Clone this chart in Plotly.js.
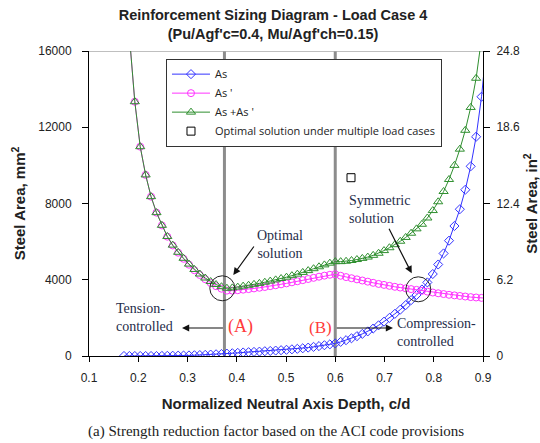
<!DOCTYPE html>
<html>
<head>
<meta charset="utf-8">
<script src="https://cdn.plot.ly/plotly-3.0.1.min.js"></script>
<style>
  html, body { margin: 0; padding: 0; background: #fff; }
  #chart { width: 540px; height: 443px; }
</style>
</head>
<body>
<div id="chart"></div>
<script>
// ---- data ----
var cd = [0.171, 0.182, 0.193, 0.204, 0.215, 0.226, 0.237, 0.248, 0.259, 0.270,
          0.281, 0.292, 0.303, 0.314, 0.325, 0.336, 0.347, 0.358, 0.369, 0.380,
          0.391, 0.402, 0.413, 0.424, 0.435, 0.446, 0.457, 0.468, 0.479, 0.490,
          0.501, 0.512, 0.523, 0.534, 0.545, 0.556, 0.567, 0.578, 0.589, 0.600,
          0.611, 0.622, 0.633, 0.644, 0.655, 0.666, 0.677, 0.688, 0.699, 0.710,
          0.721, 0.732, 0.743, 0.754, 0.765, 0.776, 0.787, 0.798, 0.809, 0.820,
          0.831, 0.842, 0.853, 0.864, 0.875, 0.886, 0.897, 0.908];

var As = [0, 0, 0, 0, 0, 0, 0, 5, 10, 15,
          20, 25, 30, 40, 50, 60, 75, 90, 105, 125,
          145, 165, 185, 200, 215, 230, 250, 265, 285, 305,
          325, 350, 375, 405, 440, 480, 520, 565, 610, 660,
          740, 830, 930, 1040, 1160, 1290, 1440, 1610, 1800, 2000,
          2210, 2430, 2670, 2930, 3200, 3490, 3860, 4300, 4800, 5380,
          6050, 6820, 7700, 8720, 9950, 11500, 13600, 16500];

var AsPrime = [21000, 16800, 13340, 10980, 9500, 8360, 7520, 6850, 6260, 5800,
               5420, 5100, 4790, 4500, 4250, 4030, 3830, 3660, 3530, 3430,
               3430, 3450, 3480, 3510, 3545, 3580, 3620, 3665, 3710, 3760,
               3810, 3865, 3920, 3980, 4040, 4100, 4160, 4215, 4260, 4290,
               4210, 4140, 4080, 4020, 3960, 3900, 3840, 3780, 3730, 3680,
               3630, 3590, 3550, 3510, 3470, 3420, 3380, 3330, 3290, 3250,
               3210, 3180, 3150, 3120, 3090, 3070, 3050, 3030];

var AsTotal = [21000, 16800, 13340, 10980, 9500, 8360, 7520, 6855, 6270, 5815,
               5440, 5125, 4820, 4540, 4300, 4090, 3905, 3750, 3635, 3555,
               3575, 3615, 3665, 3710, 3760, 3810, 3870, 3930, 3995, 4065,
               4135, 4215, 4295, 4385, 4480, 4580, 4680, 4780, 4870, 4950,
               4950, 4970, 5010, 5060, 5120, 5190, 5280, 5390, 5530, 5680,
               5840, 6020, 6220, 6440, 6670, 6910, 7240, 7630, 8090, 8630,
               9260, 10000, 10850, 11840, 13040, 14570, 16650, 19530];

var optimalX = [0.632];
var optimalY = [9354];

var seriesNames = ["As", "As '", "As +As '", "Optimal solution under multiple load cases"];

var xTicks = [0.1, 0.2, 0.3, 0.4, 0.5, 0.6, 0.7, 0.8, 0.9];
var yLeftTicks = [0, 4000, 8000, 12000, 16000];
var yLeftTickText = ["0", "4000", "8000", "12000", "16000"];
var yRightTicks = [0, 6.2, 12.4, 18.6, 24.8];
var yRightTickText = ["0", "6.2", "12.4", "18.6", "24.8"];

var limitLines = [0.375, 0.6];   // tension-controlled limit (A), compression-controlled limit (B)

// ---- traces ----
var traces = [
  {
    x: cd, y: As, name: seriesNames[0], type: "scatter", mode: "lines+markers",
    line: { color: "#3333ff", width: 1 },
    marker: { symbol: "diamond-open", size: 7, color: "#3333ff", line: { width: 1, color: "#3333ff" } }
  },
  {
    x: cd, y: AsPrime, name: seriesNames[1], type: "scatter", mode: "lines+markers",
    line: { color: "#ff33ff", width: 1 },
    marker: { symbol: "circle-open", size: 7, color: "#ff33ff", line: { width: 1, color: "#ff33ff" } }
  },
  {
    x: cd, y: AsTotal, name: seriesNames[2], type: "scatter", mode: "lines+markers",
    line: { color: "#2f8f2f", width: 1 },
    marker: { symbol: "triangle-up-open", size: 8, color: "#2f8f2f", line: { width: 1, color: "#2f8f2f" } }
  },
  {
    x: optimalX, y: optimalY, name: seriesNames[3], type: "scatter", mode: "markers",
    marker: { symbol: "square-open", size: 8, color: "#000", line: { width: 1, color: "#000" } }
  },
  {
    x: [null], y: [null], yaxis: "y2", type: "scatter", mode: "markers",
    showlegend: false, hoverinfo: "skip"
  }
];

var serif = "Liberation Serif, Times New Roman, serif";
var sans = "Liberation Sans, Arial, sans-serif";
var navy = "#1f2d4a";
var red = "#ff3b3b";

var shapes = limitLines.map(function (v) {
  return { type: "line", xref: "x", yref: "y", x0: v, x1: v, y0: 0, y1: 16000,
           line: { color: "#8c8c8c", width: 3 }, layer: "below" };
});
shapes.push({ type: "line", xref: "x", yref: "y", x0: 0.1, x1: 0.9, y0: 16000, y1: 16000,
              line: { color: "#aaaaaa", width: 1.5 }, layer: "below" });
// highlight circles
shapes.push({ type: "circle", xref: "x", yref: "y", xsizemode: "pixel", ysizemode: "pixel",
              xanchor: 0.3707, yanchor: 3552, x0: -12.5, x1: 12.5, y0: -12.5, y1: 12.5,
              line: { color: "#222", width: 1 } });
shapes.push({ type: "circle", xref: "x", yref: "y", xsizemode: "pixel", ysizemode: "pixel",
              xanchor: 0.7686, yanchor: 3499, x0: -12.5, x1: 12.5, y0: -12.5, y1: 12.5,
              line: { color: "#222", width: 1 } });

var arrowStyle = { showarrow: true, arrowhead: 2, arrowsize: 1.2, arrowwidth: 1.2, arrowcolor: "#111",
                   axref: "x", ayref: "y", xref: "x", yref: "y", text: "" };
function arrow(x, y, ax, ay) {
  var a = Object.assign({}, arrowStyle);
  a.x = x; a.y = y; a.ax = ax; a.ay = ay;
  return a;
}

var annotations = [
  { xref: "x", yref: "y", x: 0.488, y: 5875, text: "Optimal<br>solution", showarrow: false,
    font: { family: serif, size: 14, color: navy }, align: "center" },
  arrow(0.393, 4249, 0.437, 5823),
  { xref: "x", yref: "y", x: 0.6234, y: 7670, text: "Symmetric<br>solution", showarrow: false,
    xanchor: "left", font: { family: serif, size: 14, color: navy }, align: "left" },
  arrow(0.7552, 4338, 0.7077, 6752),
  { xref: "x", yref: "y", x: 0.2125, y: 2020, text: "Tension-<br>controlled", showarrow: false,
    xanchor: "center", font: { family: serif, size: 14, color: navy }, align: "left" },
  arrow(0.2888, 1469, 0.375, 1469),
  arrow(0.7173, 1469, 0.6, 1469),
  { xref: "x", yref: "y", x: 0.7205, y: 1230, text: "Compression-<br>controlled", showarrow: false,
    xanchor: "left", font: { family: serif, size: 14, color: navy }, align: "left" },
  { xref: "x", yref: "y", x: 0.4086, y: 1550, text: "(A)", showarrow: false,
    font: { family: serif, size: 18, color: red } },
  { xref: "x", yref: "y", x: 0.5704, y: 1520, text: "(B)", showarrow: false,
    font: { family: serif, size: 17, color: red } },
  { xref: "paper", yref: "paper", x: 0.4746, y: -0.249, xanchor: "center", yanchor: "middle",
    text: "(a) Strength reduction factor based on the ACI code provisions",
    showarrow: false, font: { family: serif, size: 15, color: "#222" } }
];

var axisTitleFont = { family: sans, size: 15, color: "#222", weight: "bold" };
var tickFont = { family: sans, size: 12, color: "#222" };

var layout = {
  width: 540, height: 443,
  margin: { l: 89, r: 57, t: 51, b: 87 },
  paper_bgcolor: "#fff", plot_bgcolor: "#fff",
  showlegend: true,
  title: {
    text: "Reinforcement Sizing Diagram - Load Case 4<br>(Pu/Agf'c=0.4, Mu/Agf'ch=0.15)",
    font: { family: sans, size: 14.5, color: "#222", weight: "bold" },
    xref: "container", x: 0.5056, xanchor: "center",
    yref: "container", y: 0.955, yanchor: "top"
  },
  xaxis: {
    range: [0.1, 0.9], tickvals: xTicks, tickformat: ".1f",
    ticks: "outside", ticklen: 5, tickcolor: "#000", ticklabelstandoff: 6,
    showline: true, linecolor: "#000", linewidth: 1,
    showgrid: false, zeroline: false,
    tickfont: tickFont,
    title: { text: "Normalized Neutral Axis Depth, c/d", font: axisTitleFont, standoff: 14 }
  },
  yaxis: {
    range: [0, 16000], tickvals: yLeftTicks, ticktext: yLeftTickText,
    ticks: "outside", ticklen: 6, tickcolor: "#000", ticklabelstandoff: 8,
    showline: true, linecolor: "#000", linewidth: 1,
    showgrid: false, zeroline: false,
    tickfont: tickFont,
    title: { text: "Steel Area, mm<sup>2</sup>", font: axisTitleFont, standoff: 8 }
  },
  yaxis2: {
    overlaying: "y", side: "right",
    range: [0, 24.8], tickvals: yRightTicks, ticktext: yRightTickText,
    ticks: "outside", ticklen: 6, tickcolor: "#000", ticklabelstandoff: 4,
    showline: true, linecolor: "#000", linewidth: 1,
    showgrid: false, zeroline: false,
    tickfont: tickFont,
    title: { text: "Steel Area, in<sup>2</sup>", font: axisTitleFont, standoff: 10 }
  },
  legend: {
    x: 0.1954, y: 0.975, xanchor: "left", yanchor: "top",
    bgcolor: "#fff", bordercolor: "#333", borderwidth: 1, itemwidth: 38,
    font: { family: "Open Sans, sans-serif", size: 11, color: "#222" }
  },
  shapes: shapes,
  annotations: annotations
};

Plotly.newPlot("chart", traces, layout, { displayModeBar: false, staticPlot: true });
</script>
</body>
</html>
